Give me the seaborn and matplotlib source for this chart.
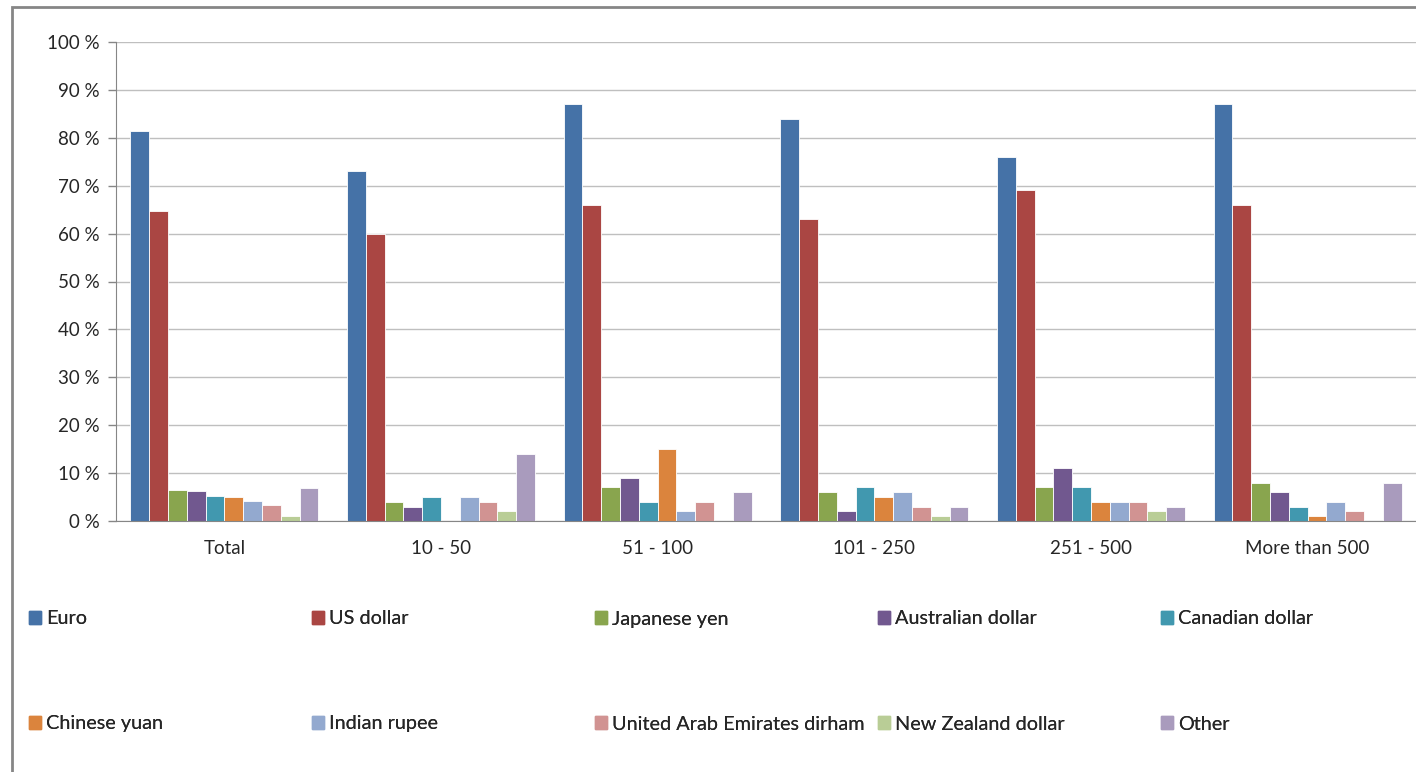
import pandas as pd
import matplotlib.pyplot as plt
import seaborn as sns
from matplotlib.patches import Patch, Rectangle
from matplotlib.ticker import FixedLocator

# Categories and series (values in %)
groups = ["Total", "10 - 50", "51 - 100", "101 - 250", "251 - 500", "More than 500"]
currencies = ["Euro", "US dollar", "Japanese yen", "Australian dollar", "Canadian dollar",
              "Chinese yuan", "Indian rupee", "United Arab Emirates dirham",
              "New Zealand dollar", "Other"]

euro = [81.4, 73, 87, 84, 76, 87]
us_dollar = [64.8, 60, 66, 63, 69, 66]
japanese_yen = [6.5, 4, 7, 6, 7, 8]
australian_dollar = [6.3, 3, 9, 2, 11, 6]
canadian_dollar = [5.2, 5, 4, 7, 7, 3]
chinese_yuan = [5.0, 0, 15, 5, 4, 1]
indian_rupee = [4.2, 5, 2, 6, 4, 4]
uae_dirham = [3.4, 4, 4, 3, 4, 2]
nz_dollar = [1.0, 2, 0, 1, 2, 0]
other = [6.9, 14, 6, 3, 3, 8]

yticks = [0, 10, 20, 30, 40, 50, 60, 70, 80, 90, 100]
ytick_labels = [f"{v} %" for v in yticks]

colors = ["#4572A7", "#AA4643", "#89A54E", "#71588F", "#4198AF",
          "#DB843D", "#93A9CF", "#D19392", "#B9CD96", "#A99BBD"]

series = [euro, us_dollar, japanese_yen, australian_dollar, canadian_dollar,
          chinese_yuan, indian_rupee, uae_dirham, nz_dollar, other]

rows = []
for cur, vals in zip(currencies, series):
    for g, v in zip(groups, vals):
        rows.append({"group": g, "currency": cur, "value": v})
df = pd.DataFrame(rows)

sns.set_style("white")
plt.rcParams['font.family'] = ['Lato', 'DejaVu Sans']
FS = 13.5
LEG_FS = 14.3

fig = plt.figure(figsize=(14.16, 7.72), dpi=100)
ax = fig.add_axes([116 / 1416, 1 - 521 / 772, 1300 / 1416, 479 / 772])

sns.barplot(data=df, x="group", y="value", hue="currency", order=groups,
            hue_order=currencies, palette=colors, saturation=1, width=0.868,
            edgecolor="white", linewidth=0.6, ax=ax, legend=False)

ax.set_xlim(-0.5, 5.5)
ax.set_ylim(0, 100)
ax.set_yticks(yticks)
ax.set_yticklabels(ytick_labels, fontsize=FS)
ax.set_xlabel("")
ax.set_ylabel("")
ax.tick_params(axis="x", which="major", length=0, labelsize=FS, pad=14)
ax.xaxis.set_minor_locator(FixedLocator([i - 0.5 for i in range(len(groups) + 1)]))
ax.tick_params(axis="x", which="minor", length=6, color="#bfbfbf", width=1)
ax.tick_params(axis="y", length=6, color="#868686", width=1, pad=6, left=True)
ax.grid(axis="y", color="#bfbfbf", linewidth=1)
ax.set_axisbelow(True)
for s in ["top", "right"]:
    ax.spines[s].set_visible(False)
ax.spines["left"].set_color("#868686")
ax.spines["bottom"].set_color("#868686")

# legend: two rows of five equal-width columns
col_x = [29, 312, 595, 878, 1161]
row_y = [619, 724]
for i, (cur, col) in enumerate(zip(currencies, colors)):
    r, c = divmod(i, 5)
    leg = fig.legend(handles=[Patch(facecolor=col, edgecolor=col)], labels=[cur],
                     loc="center left",
                     bbox_to_anchor=(col_x[c] / 1416, 1 - row_y[r] / 772),
                     frameon=False, fontsize=LEG_FS, handlelength=0.6, handleheight=0.6,
                     handletextpad=0.28, borderpad=0, borderaxespad=0)
    fig.add_artist(leg)

# chart area border
fig.add_artist(Rectangle((12 / 1416, -0.05), 1.1, 1 - 7 / 772 + 0.05,
                         transform=fig.transFigure, fill=False,
                         edgecolor="#868686", linewidth=2))

plt.savefig("out.png", dpi=100)
